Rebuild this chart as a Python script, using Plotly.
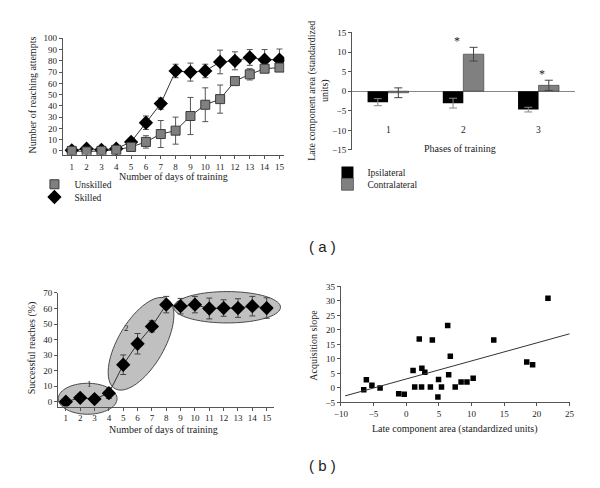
import numpy as np
import plotly.graph_objects as go

W, H = 600, 488

# ---------------- data ----------------
days = list(range(1, 16))
unskilled_attempts = [0, -0.5, 0, 1, 3.5, 8, 15, 18, 31, 41, 46, 62, 68, 73, 74]
unskilled_err = [0, 0, 0, 1, 2, 5.5, 12, 12, 16.5, 15, 12.5, 1.5, 5, 3, 2]
skilled_attempts = [0.5, 2, 1, 2, 8, 25, 42, 71, 70, 71, 79, 80, 83, 81, 81]
skilled_err = [0, 0, 0, 0, 1, 6, 5, 6, 8, 6, 10.5, 8, 7, 9, 9.5]

phases = ["1", "2", "3"]
ipsilateral = [-2.8, -3.05, -4.7]
ipsilateral_err = [0.9, 1.25, 0.6]
contralateral = [-0.4, 9.45, 1.5]
contralateral_err = [1.25, 1.75, 1.3]
significance = ["", "*", "*"]

success_pct = [0, 2.5, 1.7, 5.5, 23.8, 37.3, 48.5, 62.5, 61.5, 62.5, 60, 60.3, 60.3, 61.5, 60.3]
success_err = [0.8, 2.3, 2, 3.4, 6.3, 6.6, 3.6, 5.3, 5, 5.3, 6.7, 5.3, 6, 6.3, 6.6]

late_area = [-6.5, -6.1, -5.25, -4.0, -1.15, -0.3, 1.05, 1.3, 2.0, 2.4, 2.35, 2.85, 3.7, 4.0,
             4.85, 4.95, 5.4, 6.35, 6.5, 6.75, 7.5, 8.4, 9.3, 10.25, 13.4, 18.45, 19.35, 21.7]
acq_slope = [-0.6, 2.8, 0.9, 0.0, -2.0, -2.2, 6.0, 0.3, 16.9, 6.8, 0.3, 5.4, 0.3, 16.5,
             -3.1, 2.9, 0.3, 21.5, 4.5, 10.9, 0.3, 2.0, 2.0, 3.3, 16.5, 8.9, 8.0, 30.9]
fit_slope = 0.623
fit_intercept = 3.07
fit_x_range = [-9.35, 25.9]

# ---------------- layout helpers ----------------
SERIF = "Liberation Serif"
TICK = dict(family=SERIF, size=9, color="#222")
AX = "#555"


def dom_x(a, b):
    return [a / W, b / W]


def dom_y(top, bottom):
    return [1 - bottom / H, 1 - top / H]


# pixel domains and ranges
TL = dict(x=(57, 283), y=(34, 153), xr=[0.4, 15.33], yr=[-3.5, 100])
TR = dict(x=(352, 580), y=(28, 148), xr=[-0.48, 2.49], yr=[-15, 15])
BL = dict(x=(52, 272), y=(294, 410), xr=[0.45, 15.48], yr=[-3.15, 70])
BR = dict(x=(340.7, 574), y=(287.3, 405.7), xr=[-10, 25], yr=[-5, 35])


def to_px(P, x, y):
    (x0, x1), (yt, yb) = P["x"], P["y"]
    px = x0 + (x - P["xr"][0]) / (P["xr"][1] - P["xr"][0]) * (x1 - x0)
    py = yb - (y - P["yr"][0]) / (P["yr"][1] - P["yr"][0]) * (yb - yt)
    return px, py


def ellipse_path(P, cx, cy, a, b, ang):
    cpx, cpy = to_px(P, cx, cy)
    th = np.radians(ang)
    t = np.linspace(0, 2 * np.pi, 73)
    px = cpx + a * np.cos(t) * np.cos(th) - b * np.sin(t) * np.sin(th)
    py = cpy - (a * np.cos(t) * np.sin(th) + b * np.sin(t) * np.cos(th))
    pts = ["%.5f,%.5f" % (u / W, 1 - v / H) for u, v in zip(px, py)]
    return "M " + " L ".join(pts) + " Z"


fig = go.Figure()

# ---------------- top-left ----------------
fig.add_trace(go.Scatter(x=days, y=skilled_attempts, mode="lines", line=dict(color="#333", width=1),
                         xaxis="x", yaxis="y", showlegend=False, hoverinfo="skip"))
fig.add_trace(go.Scatter(x=days, y=unskilled_attempts, mode="lines", line=dict(color="#333", width=1),
                         xaxis="x", yaxis="y", showlegend=False, hoverinfo="skip"))
fig.add_trace(go.Scatter(x=days, y=skilled_attempts, mode="markers", name="Skilled",
                         marker=dict(symbol="diamond", size=11, color="black"),
                         error_y=dict(type="data", array=skilled_err, color="#555", thickness=1, width=3),
                         xaxis="x", yaxis="y", legend="legend2"))
fig.add_trace(go.Scatter(x=days, y=unskilled_attempts, mode="markers", name="Unskilled",
                         marker=dict(symbol="square", size=9, color="#808080", line=dict(color="#3a3a3a", width=1)),
                         error_y=dict(type="data", array=unskilled_err, color="#555", thickness=1, width=3),
                         xaxis="x", yaxis="y", legend="legend"))

# ---------------- top-right ----------------
fig.add_trace(go.Bar(x=phases, y=ipsilateral, name="Ipsilateral", marker=dict(color="black", line=dict(width=0)),
                     error_y=dict(type="data", array=ipsilateral_err, color="#888", thickness=1, width=4),
                     xaxis="x2", yaxis="y2", legend="legend3"))
fig.add_trace(go.Bar(x=phases, y=contralateral, name="Contralateral",
                     marker=dict(color="#808080", line=dict(color="#333", width=0.6)),
                     error_y=dict(type="data", array=contralateral_err, color="#444", thickness=1, width=4),
                     xaxis="x2", yaxis="y2", legend="legend4"))

# ---------------- bottom-left ----------------
fig.add_trace(go.Scatter(x=days, y=success_pct, mode="lines+markers", line=dict(color="#333", width=1),
                         marker=dict(symbol="diamond", size=11, color="black"),
                         error_y=dict(type="data", array=success_err, color="#444", thickness=1, width=3),
                         xaxis="x3", yaxis="y3", showlegend=False))

# ---------------- bottom-right ----------------
fig.add_trace(go.Scatter(x=late_area, y=acq_slope, mode="markers",
                         marker=dict(symbol="square", size=5.5, color="black"),
                         xaxis="x4", yaxis="y4", showlegend=False))
fx = np.array(fit_x_range)
fig.add_trace(go.Scatter(x=fx, y=fit_slope * fx + fit_intercept, mode="lines",
                         line=dict(color="#333", width=1), xaxis="x4", yaxis="y4",
                         showlegend=False, hoverinfo="skip", cliponaxis=False))

# ---------------- axes ----------------
def axis(dom, rng, **kw):
    d = dict(domain=dom, range=rng, showgrid=False, zeroline=False, showline=True, linecolor=AX,
             linewidth=1, ticks="outside", ticklen=3, tickcolor=AX, tickfont=TICK, fixedrange=True)
    d.update(kw)
    return d


layout = dict(
    width=W, height=H, margin=dict(l=0, r=0, t=0, b=0), paper_bgcolor="white", plot_bgcolor="white",
    showlegend=True, barmode="group", bargap=0.455, bargroupgap=0,
    font=dict(family=SERIF, size=9, color="#222"),
    xaxis=axis(dom_x(*TL["x"]), TL["xr"], tickvals=days, anchor="y"),
    yaxis=axis(dom_y(*TL["y"]), TL["yr"], dtick=10, tick0=0, anchor="x"),
    xaxis2=axis(dom_x(*TR["x"]), TR["xr"], showline=False, ticks="", showticklabels=False, anchor="y2",
                type="category"),
    yaxis2=axis(dom_y(*TR["y"]), TR["yr"], dtick=5, zeroline=True, zerolinecolor="#888", zerolinewidth=1,
                anchor="x2"),
    xaxis3=axis(dom_x(*BL["x"]), BL["xr"], tickvals=days, anchor="y3"),
    yaxis3=axis(dom_y(*BL["y"]), BL["yr"], dtick=10, tick0=0, anchor="x3"),
    xaxis4=axis(dom_x(*BR["x"]), BR["xr"], dtick=5, tick0=-10, anchor="y4"),
    yaxis4=axis(dom_y(*BR["y"]), BR["yr"], dtick=5, tick0=-5, anchor="x4"),
)

leg = dict(font=dict(family=SERIF, size=9.5, color="#222"), bgcolor="rgba(0,0,0,0)", borderwidth=0,
           xanchor="left", yanchor="middle", itemwidth=30)
layout["legend"] = dict(leg, x=28 / W, y=1 - 183 / H)
layout["legend2"] = dict(leg, x=28 / W, y=1 - 196 / H)
layout["legend3"] = dict(leg, x=327 / W, y=1 - 171 / H)
layout["legend4"] = dict(leg, x=327 / W, y=1 - 183 / H)

fig.update_layout(**layout)

# ---------------- annotations ----------------
ann = []


def txt(x, y, s, size=10, angle=0, font=SERIF, **kw):
    d = dict(x=x / W, y=1 - y / H, xref="paper", yref="paper", text=s, showarrow=False,
             font=dict(family=font, size=size, color="#222"), textangle=angle,
             xanchor="center", yanchor="middle")
    d.update(kw)
    ann.append(d)


txt(170, 175, "Number of days of training")
txt(26, 92, "Number of reaching attempts", angle=-90)
txt(462, 147, "Phases of training")
txt(318, 88, "Late component area (standardized<br>units)", angle=-90)
txt(160, 433, "Number of days of training")
txt(25, 350, "Successful reaches (%)", angle=-90)
txt(457, 433, "Late component area (standardized units)")
txt(313, 347, "Acquisition slope", angle=-90)
txt(322, 247, "( a )", size=15, font="Liberation Sans")
txt(322, 470, "( b )", size=15, font="Liberation Sans")

# phase tick labels inside the bar chart
for i, p in enumerate(phases):
    ann.append(dict(x=i, y=-10, xref="x2", yref="y2", text=p, showarrow=False,
                    font=dict(family=SERIF, size=9.5, color="#222")))
# significance stars
star_off = [0, -0.09, 0.04]
for i, s in enumerate(significance):
    if s:
        top = contralateral[i] + contralateral_err[i]
        ann.append(dict(x=i + star_off[i], y=top + 1.6, xref="x2", yref="y2", text=s, showarrow=False,
                        font=dict(family=SERIF, size=12, color="#222")))

# ellipse labels
for lab, lx, ly in [("1", 2.64, 11.2), ("2", 5.26, 47.3), ("3", 10.56, 72.5)]:
    ann.append(dict(x=lx, y=ly, xref="x3", yref="y3", text=lab, showarrow=False,
                    font=dict(family=SERIF, size=9, color="#222")))

fig.update_layout(annotations=ann)

# ---------------- phase ellipses ----------------
ell = [(2.52, 1.9, 30, 15.8, 0), (6.24, 37.3, 53, 23.5, 59.8), (12.24, 60.8, 54.5, 16, 0)]
shapes = []
for cx, cy, a, b, ang in ell:
    shapes.append(dict(type="path", path=ellipse_path(BL, cx, cy, a, b, ang), xref="paper", yref="paper",
                       fillcolor="#c0c0c0", line=dict(color="#4a4a4a", width=1), layer="below"))
fig.update_layout(shapes=shapes)

fig.write_html("out.html", config={"displayModeBar": False, "staticPlot": True},
               post_script="document.body.style.margin='0';document.body.style.padding='0';")
